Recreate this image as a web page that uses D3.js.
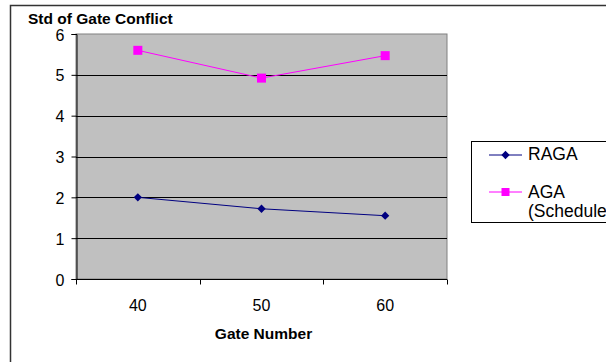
<!DOCTYPE html>
<html>
<head>
<meta charset="utf-8">
<script src="https://cdn.jsdelivr.net/npm/d3@7"></script>
<style>
  html, body { margin: 0; padding: 0; background: #fff; }
  svg { display: block; font-family: "Liberation Sans", Arial, sans-serif; }
</style>
</head>
<body>
<svg id="chart" width="606" height="362"></svg>
<script>
// Gate counts on the x axis
const gates = ["40", "50", "60"];
// Standard deviation of gate conflict per algorithm
const ragaValues = [2.0, 1.72, 1.55];
const agaValues = [5.6, 4.92, 5.47];
const yTicks = [0, 1, 2, 3, 4, 5, 6];
const seriesNames = ["RAGA", "AGA (Schedule"];

(function () {
  const svg = d3.select("#chart");
  const font = "Liberation Sans, Arial, sans-serif";

  // outer chart frame (runs off the right and bottom edges)
  svg.append("path")
    .attr("d", "M10.5,700 V5.5 H700")
    .attr("fill", "none").attr("stroke", "#333").attr("stroke-width", 1.5);

  const pLeft = 76, pRight = 447, pTop = 34, pBottom = 279;
  const x = d3.scaleBand().domain(gates).range([pLeft, pRight]);
  const y = d3.scaleLinear().domain([0, 6]).range([pBottom, pTop]);

  // plot area
  svg.append("rect")
    .attr("x", pLeft).attr("y", pTop)
    .attr("width", pRight - pLeft).attr("height", pBottom - pTop)
    .attr("fill", "#c0c0c0").attr("stroke", "#808080").attr("stroke-width", 1);

  // horizontal gridlines
  svg.append("g").selectAll("line")
    .data(yTicks.filter(d => d > 0 && d < 6))
    .join("line")
    .attr("x1", pLeft).attr("x2", pRight)
    .attr("y1", d => Math.round(y(d)) + 0.5).attr("y2", d => Math.round(y(d)) + 0.5)
    .attr("stroke", "#000").attr("stroke-width", 1);

  // y axis
  const yAxis = svg.append("g")
    .attr("transform", `translate(${pLeft + 0.5},0)`)
    .call(d3.axisLeft(y).tickValues(yTicks).tickSize(5).tickPadding(7).tickFormat(d3.format("d")));
  yAxis.attr("font-size", null).attr("font-family", null);
  yAxis.select(".domain").attr("stroke", "#000");
  yAxis.selectAll(".tick line").attr("stroke", "#000");
  yAxis.selectAll(".tick text")
    .style("font-size", "16px").style("font-family", font)
    .attr("fill", "#000").attr("dy", "0.38em");

  // x axis: ticks on category boundaries
  const xAxisG = svg.append("g").attr("transform", `translate(0,${pBottom + 0.5})`);
  xAxisG.append("line").attr("x1", pLeft).attr("x2", pRight).attr("stroke", "#000");
  const boundaries = gates.map(g => x(g)).concat([x(gates[gates.length - 1]) + x.bandwidth()]);
  xAxisG.selectAll(".tk").data(boundaries).join("line")
    .attr("class", "tk")
    .attr("x1", d => Math.round(d) + 0.5).attr("x2", d => Math.round(d) + 0.5)
    .attr("y1", 0).attr("y2", 5).attr("stroke", "#000");
  xAxisG.selectAll("text").data(gates).join("text")
    .attr("x", d => x(d) + x.bandwidth() / 2)
    .attr("y", 31)
    .attr("text-anchor", "middle")
    .style("font-size", "16px")
    .text(d => d);

  // series lines and markers
  const cx = d => x(d) + x.bandwidth() / 2;
  const line = d3.line().x(d => cx(d.g)).y(d => y(d.v));

  const raga = gates.map((g, i) => ({ g, v: ragaValues[i] }));
  const aga = gates.map((g, i) => ({ g, v: agaValues[i] }));

  svg.append("path").datum(aga).attr("d", line)
    .attr("fill", "none").attr("stroke", "#ff00ff").attr("stroke-width", 1);
  svg.append("g").selectAll("rect").data(aga).join("rect")
    .attr("x", d => cx(d.g) - 4.5).attr("y", d => y(d.v) - 4.5)
    .attr("width", 9).attr("height", 9).attr("fill", "#ff00ff");

  svg.append("path").datum(raga).attr("d", line)
    .attr("fill", "none").attr("stroke", "#000080").attr("stroke-width", 1);
  const diamond = d3.symbol().type(d3.symbolDiamond2).size(44);
  svg.append("g").selectAll("path").data(raga).join("path")
    .attr("transform", d => `translate(${cx(d.g)},${y(d.v)})`)
    .attr("d", diamond).attr("fill", "#000080");

  // titles
  svg.append("text").attr("x", 28).attr("y", 24)
    .style("font-size", "15.5px").attr("font-weight", "bold").text("Std of Gate Conflict");
  svg.append("text").attr("x", (pLeft + pRight) / 2 + 2).attr("y", 339)
    .attr("text-anchor", "middle")
    .style("font-size", "15.5px").attr("font-weight", "bold").text("Gate Number");

  // legend
  const lg = svg.append("g");
  lg.append("rect").attr("x", 471.5).attr("y", 141.5).attr("width", 200).attr("height", 81)
    .attr("fill", "#fff").attr("stroke", "#000").attr("stroke-width", 1);
  // RAGA entry
  lg.append("line").attr("x1", 489).attr("x2", 522).attr("y1", 155).attr("y2", 155)
    .attr("stroke", "#000080");
  lg.append("path").attr("transform", "translate(505.5,155)").attr("d", diamond).attr("fill", "#000080");
  lg.append("text").attr("x", 528).attr("y", 159.5).style("font-size", "17.5px").text(seriesNames[0]);
  // AGA entry
  lg.append("line").attr("x1", 489).attr("x2", 522).attr("y1", 192).attr("y2", 192)
    .attr("stroke", "#ff00ff");
  lg.append("rect").attr("x", 501.5).attr("y", 188).attr("width", 8).attr("height", 8).attr("fill", "#ff00ff");
  const agaLabel = lg.append("text").attr("x", 528).attr("y", 197.5).style("font-size", "17.5px");
  agaLabel.append("tspan").attr("x", 528).text(seriesNames[1].split(" ")[0]);
  agaLabel.append("tspan").attr("x", 528).attr("dy", 19.5).text(seriesNames[1].split(" ")[1]);
})();
</script>
</body>
</html>
